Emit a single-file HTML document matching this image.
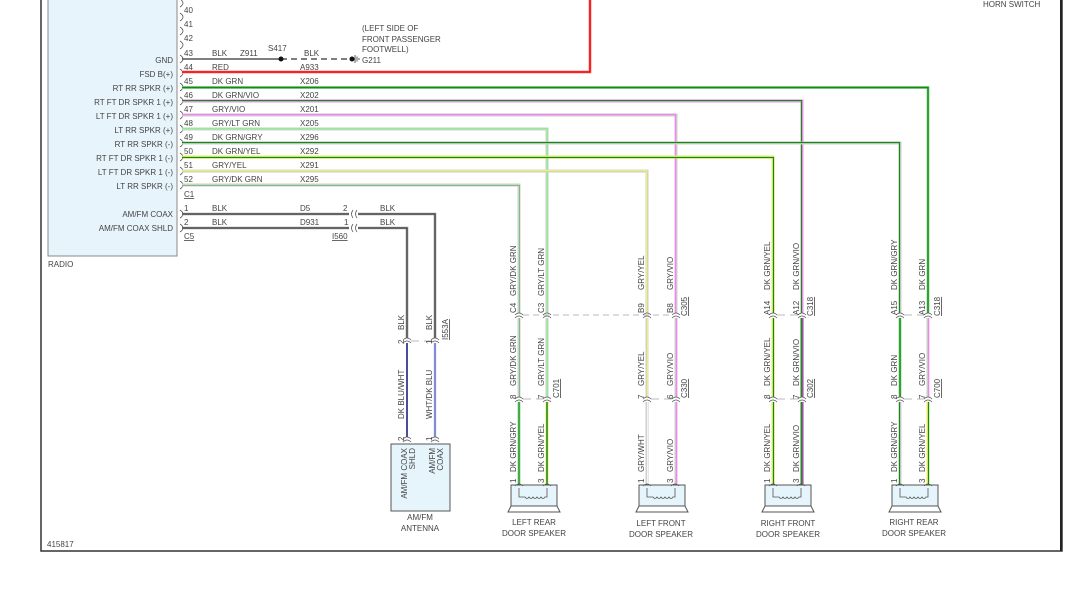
<!DOCTYPE html>
<html><head><meta charset="utf-8"><style>
html,body{margin:0;padding:0;background:#fff;}
svg{display:block;font-family:"Liberation Sans",sans-serif;}
text{fill:#444;font-size:8px;}
</style></head><body>
<svg width="1075" height="616" viewBox="0 0 1075 616" xmlns="http://www.w3.org/2000/svg">
<defs>
<g id="cn"><path d="M-4,1 Q0,-3 4,1 M-4,4 Q0,0 4,4" fill="none" stroke="#555" stroke-width="0.8"/></g>
<g id="pin"><path d="M0,-4 Q3,-2 3,0 Q3,2 0,4" fill="none" stroke="#555" stroke-width="0.8"/></g>
<g id="spk">
<rect x="-8" y="0" width="46" height="21" fill="#e6f4fb" stroke="#555" stroke-width="1"/>
<path d="M-8,21 L-11,27 L41,27 L38,21" fill="none" stroke="#555" stroke-width="1"/>
<path d="M0,3 V12 H6 q2,3 4,0 q2,3 4,0 q2,3 4,0 q2,3 4,0 q2,3 4,0 H28 V3" fill="none" stroke="#555" stroke-width="0.8"/>
<path d="M-4,1 Q0,-3 4,1 M24,1 Q28,-3 32,1" fill="none" stroke="#555" stroke-width="0.8"/>
</g>
</defs>

<!-- frame -->
<rect x="41" y="-5" width="1021" height="556" fill="none" stroke="#333" stroke-width="1.5"/>
<line x1="1061" y1="0" x2="1061" y2="551" stroke="#222" stroke-width="2"/>
<text x="983" y="7">HORN SWITCH</text>

<!-- radio -->
<rect x="48" y="-5" width="129" height="261" fill="#e8f4fb" stroke="#888" stroke-width="1"/>
<text x="48" y="267">RADIO</text>
<text x="47" y="547">415817</text>

<g text-anchor="end">
<text x="173" y="63">GND</text>
<text x="173" y="77">FSD B(+)</text>
<text x="173" y="91">RT RR SPKR (+)</text>
<text x="173" y="105">RT FT DR SPKR 1 (+)</text>
<text x="173" y="119">LT FT DR SPKR 1 (+)</text>
<text x="173" y="133">LT RR SPKR (+)</text>
<text x="173" y="147">RT RR SPKR (-)</text>
<text x="173" y="161">RT FT DR SPKR 1 (-)</text>
<text x="173" y="175">LT FT DR SPKR 1 (-)</text>
<text x="173" y="189">LT RR SPKR (-)</text>
<text x="173" y="217">AM/FM COAX</text>
<text x="173" y="231">AM/FM COAX SHLD</text>
</g>

<!-- pin markers -->
<g>
<use href="#pin" x="180" y="3"/><use href="#pin" x="180" y="17"/><use href="#pin" x="180" y="31"/><use href="#pin" x="180" y="45"/>
<use href="#pin" x="180" y="59"/><use href="#pin" x="180" y="73"/><use href="#pin" x="180" y="87"/><use href="#pin" x="180" y="101"/>
<use href="#pin" x="180" y="115"/><use href="#pin" x="180" y="129"/><use href="#pin" x="180" y="143"/><use href="#pin" x="180" y="157"/>
<use href="#pin" x="180" y="171"/><use href="#pin" x="180" y="185"/><use href="#pin" x="180" y="214"/><use href="#pin" x="180" y="228"/>
</g>
<g>
<text x="184" y="13">40</text><text x="184" y="27">41</text><text x="184" y="41">42</text>
<text x="184" y="56">43</text><text x="184" y="70">44</text><text x="184" y="84">45</text><text x="184" y="98">46</text>
<text x="184" y="112">47</text><text x="184" y="126">48</text><text x="184" y="140">49</text><text x="184" y="154">50</text>
<text x="184" y="168">51</text><text x="184" y="182">52</text>
<text x="184" y="197" text-decoration="underline">C1</text>
<text x="184" y="211">1</text><text x="184" y="225">2</text>
<text x="184" y="239" text-decoration="underline">C5</text>
</g>
<g>
<text x="212" y="56">BLK</text><text x="240" y="56">Z911</text><text x="268" y="51">S417</text><text x="304" y="56">BLK</text>
<text x="212" y="70">RED</text><text x="300" y="70">A933</text>
<text x="212" y="84">DK GRN</text><text x="300" y="84">X206</text>
<text x="212" y="98">DK GRN/VIO</text><text x="300" y="98">X202</text>
<text x="212" y="112">GRY/VIO</text><text x="300" y="112">X201</text>
<text x="212" y="126">GRY/LT GRN</text><text x="300" y="126">X205</text>
<text x="212" y="140">DK GRN/GRY</text><text x="300" y="140">X296</text>
<text x="212" y="154">DK GRN/YEL</text><text x="300" y="154">X292</text>
<text x="212" y="168">GRY/YEL</text><text x="300" y="168">X291</text>
<text x="212" y="182">GRY/DK GRN</text><text x="300" y="182">X295</text>
<text x="212" y="211">BLK</text><text x="300" y="211">D5</text><text x="343" y="211">2</text><text x="380" y="211">BLK</text>
<text x="212" y="225">BLK</text><text x="300" y="225">D931</text><text x="344" y="225">1</text><text x="380" y="225">BLK</text>
<text x="332" y="239" text-decoration="underline">I560</text>
<text x="362" y="31">(LEFT SIDE OF</text>
<text x="362" y="42">FRONT PASSENGER</text>
<text x="362" y="52">FOOTWELL)</text>
<text x="362" y="63">G211</text>
</g>

<!-- ground -->
<line x1="182" y1="59" x2="281" y2="59" stroke="#555" stroke-width="1.5"/>
<line x1="281" y1="59" x2="352" y2="59" stroke="#555" stroke-width="1.5" stroke-dasharray="6,4"/>
<circle cx="281" cy="59" r="2.5" fill="#111"/>
<circle cx="352" cy="59" r="2.5" fill="#111"/>
<path d="M355,55 V63 M357,56.5 V61.5 M359,58 V60" stroke="#333" stroke-width="0.8"/>

<!-- red wire -->
<path d="M182,72 H590 V-2" fill="none" stroke="#ff9999" stroke-width="3"/>
<path d="M182,72 H590 V-2" fill="none" stroke="#ee0000" stroke-width="1.5"/>

<!-- speaker wires (base width 3, stripe width 1.2) -->
<g fill="none">
<!-- 45 DK GRN -> 928 -->
<path d="M182,87.5 H928 V313" stroke="#9cd89c" stroke-width="3"/><path d="M182,87.5 H928 V313" stroke="#138a13" stroke-width="1.5"/>
<!-- 46 DK GRN/VIO -> 802 -->
<path d="M182,101 H802 V313" stroke="#ee99ee" stroke-width="3"/><path d="M182,100.5 H801.5 V313" stroke="#1a8a1a" stroke-width="1.2"/>
<!-- 47 GRY/VIO -> 676 -->
<path d="M182,115 H676 V313" stroke="#cfcfcf" stroke-width="3"/><path d="M182,114.5 H675.5 V313" stroke="#ee88ee" stroke-width="1.4"/>
<!-- 48 GRY/LT GRN -> 547 -->
<path d="M182,129 H547 V313" stroke="#cfcfcf" stroke-width="3"/><path d="M182,128.5 H547.5 V313" stroke="#90ee90" stroke-width="1.4"/>
<!-- 49 DK GRN/GRY -> 900 -->
<path d="M182,143 H900 V313" stroke="#cfcfcf" stroke-width="3"/><path d="M182,142.5 H899.5 V313" stroke="#138a13" stroke-width="1.2"/>
<!-- 50 DK GRN/YEL -> 773 -->
<path d="M182,157 H773 V313" stroke="#eeee66" stroke-width="3"/><path d="M182,157.5 H773.5 V313" stroke="#138a13" stroke-width="1.2"/>
<!-- 51 GRY/YEL -> 647 -->
<path d="M182,171 H647 V313" stroke="#cfcfcf" stroke-width="3"/><path d="M182,170.5 H646.5 V313" stroke="#f0f070" stroke-width="1.2"/>
<!-- 52 GRY/DK GRN -> 519 -->
<path d="M182,185 H519 V313" stroke="#cfcfcf" stroke-width="3"/><path d="M182,185.5 H519.5 V313" stroke="#7cbf7c" stroke-width="1"/>

<!-- middle segments 317-397 -->
<path d="M519,318 V397" stroke="#cfcfcf" stroke-width="3"/><path d="M519.5,318 V397" stroke="#7cbf7c" stroke-width="1"/>
<path d="M547,318 V397" stroke="#cfcfcf" stroke-width="3"/><path d="M547.5,318 V397" stroke="#90ee90" stroke-width="1.4"/>
<path d="M647,318 V397" stroke="#cfcfcf" stroke-width="3"/><path d="M647.5,318 V397" stroke="#f0f070" stroke-width="1.2"/>
<path d="M676,318 V397" stroke="#cfcfcf" stroke-width="3"/><path d="M676.5,318 V397" stroke="#ee88ee" stroke-width="1.4"/>
<path d="M773,318 V397" stroke="#eeee66" stroke-width="3"/><path d="M773.5,318 V397" stroke="#138a13" stroke-width="1.2"/>
<path d="M802,318 V397" stroke="#1a8a1a" stroke-width="3"/><path d="M802.5,318 V397" stroke="#cc33cc" stroke-width="1.2"/>
<path d="M900,318 V397" stroke="#9cd89c" stroke-width="3"/><path d="M900,318 V397" stroke="#138a13" stroke-width="1.5"/>
<path d="M928,318 V397" stroke="#cfcfcf" stroke-width="3"/><path d="M928.5,318 V397" stroke="#ee88ee" stroke-width="1.2"/>

<!-- lower segments 401-485 -->
<path d="M519,402 V485" stroke="#9cd89c" stroke-width="3"/><path d="M519,402 V485" stroke="#2a9a2a" stroke-width="1.5"/>
<path d="M547,402 V485" stroke="#eeee66" stroke-width="3"/><path d="M547,402 V485" stroke="#138a13" stroke-width="1.5"/>
<path d="M647,402 V485" stroke="#cfcfcf" stroke-width="3"/><path d="M647.5,402 V485" stroke="#f5f5f5" stroke-width="1"/>
<path d="M676,402 V485" stroke="#cfcfcf" stroke-width="3"/><path d="M676.5,402 V485" stroke="#ee88ee" stroke-width="1.4"/>
<path d="M773,402 V485" stroke="#eeee66" stroke-width="3"/><path d="M773.5,402 V485" stroke="#138a13" stroke-width="1.2"/>
<path d="M802,402 V485" stroke="#1a8a1a" stroke-width="3"/><path d="M802.5,402 V485" stroke="#cc33cc" stroke-width="1.2"/>
<path d="M900,402 V485" stroke="#cfcfcf" stroke-width="3"/><path d="M899.5,402 V485" stroke="#138a13" stroke-width="1.2"/>
<path d="M928,402 V485" stroke="#eeee66" stroke-width="3"/><path d="M928.5,402 V485" stroke="#138a13" stroke-width="1.2"/>

<!-- dashed connector lines -->
<line x1="523" y1="315" x2="672" y2="315" stroke="#c8c8c8" stroke-width="1.2" stroke-dasharray="6,4"/>
<path d="M523,399 H531 M536,399 H543 M651,399 H659 M664,399 H672 M777,315 H785 M790,315 H798 M777,399 H785 M790,399 H798 M904,315 H912 M917,315 H924 M904,399 H912 M917,399 H924 M411,341 H419 M424,341 H431" stroke="#c8c8c8" stroke-width="1.2"/>

<!-- coax -->
<path d="M182,214 H349 M358,214 H435 V338" stroke="#999" stroke-width="2.6"/>
<path d="M182,214 H349 M358,214 H435 V338" stroke="#444" stroke-width="1.2"/>
<path d="M182,228 H349 M358,228 H407 V338" stroke="#999" stroke-width="2.6"/>
<path d="M182,228 H349 M358,228 H407 V338" stroke="#444" stroke-width="1.2"/>
<path d="M353,210 Q350,214 353,218 M357,210 Q354,214 357,218 M353,224 Q350,228 353,232 M357,224 Q354,228 357,232" stroke="#555" stroke-width="0.8"/>
<path d="M407,343 V437" stroke="#1a237e" stroke-width="1.6"/>
<path d="M435,343 V437" stroke="#aab4e8" stroke-width="2.4"/><path d="M435,343 V437" stroke="#5566bb" stroke-width="1"/>
</g>

<!-- connector glyphs -->
<g>
<use href="#cn" x="407" y="339"/><use href="#cn" x="435" y="339"/>
<use href="#cn" x="407" y="438"/><use href="#cn" x="435" y="438"/>
<use href="#cn" x="519" y="314"/><use href="#cn" x="547" y="314"/><use href="#cn" x="647" y="314"/><use href="#cn" x="676" y="314"/>
<use href="#cn" x="773" y="314"/><use href="#cn" x="802" y="314"/><use href="#cn" x="900" y="314"/><use href="#cn" x="928" y="314"/>
<use href="#cn" x="519" y="398"/><use href="#cn" x="547" y="398"/><use href="#cn" x="647" y="398"/><use href="#cn" x="676" y="398"/>
<use href="#cn" x="773" y="398"/><use href="#cn" x="802" y="398"/><use href="#cn" x="900" y="398"/><use href="#cn" x="928" y="398"/>
</g>

<!-- speakers -->
<use href="#spk" x="519" y="485"/>
<use href="#spk" x="647" y="485"/>
<use href="#spk" x="773" y="485"/>
<use href="#spk" x="900" y="485"/>
<g text-anchor="middle">
<text x="534" y="525">LEFT REAR</text><text x="534" y="536">DOOR SPEAKER</text>
<text x="661" y="526">LEFT FRONT</text><text x="661" y="537">DOOR SPEAKER</text>
<text x="788" y="526">RIGHT FRONT</text><text x="788" y="537">DOOR SPEAKER</text>
<text x="914" y="525">RIGHT REAR</text><text x="914" y="536">DOOR SPEAKER</text>
<text x="420" y="520">AM/FM</text><text x="420" y="531">ANTENNA</text>
</g>

<!-- antenna box -->
<rect x="391" y="444" width="59" height="67" fill="#e6f4fb" stroke="#555" stroke-width="1"/>
<g text-anchor="end">
<text transform="translate(407,448) rotate(-90)">AM/FM COAX</text>
<text transform="translate(415,448) rotate(-90)">SHLD</text>
<text transform="translate(435,448) rotate(-90)">AM/FM</text>
<text transform="translate(443,448) rotate(-90)">COAX</text>
</g>

<!-- vertical labels -->
<g>
<!-- antenna wires -->
<text transform="translate(404,330) rotate(-90)">BLK</text>
<text transform="translate(432,330) rotate(-90)">BLK</text>
<text transform="translate(404,344) rotate(-90)">2</text>
<text transform="translate(432,344) rotate(-90)">1</text>
<text transform="translate(448,340) rotate(-90)" text-decoration="underline">I553A</text>
<text transform="translate(404,419) rotate(-90)">DK BLU/WHT</text>
<text transform="translate(432,419) rotate(-90)">WHT/DK BLU</text>
<text transform="translate(404,441) rotate(-90)">2</text>
<text transform="translate(432,441) rotate(-90)">1</text>

<!-- upper labels -->
<text transform="translate(516,296) rotate(-90)">GRY/DK GRN</text>
<text transform="translate(544,296) rotate(-90)">GRY/LT GRN</text>
<text transform="translate(644,290) rotate(-90)">GRY/YEL</text>
<text transform="translate(673,290) rotate(-90)">GRY/VIO</text>
<text transform="translate(770,290) rotate(-90)">DK GRN/YEL</text>
<text transform="translate(799,290) rotate(-90)">DK GRN/VIO</text>
<text transform="translate(897,290) rotate(-90)">DK GRN/GRY</text>
<text transform="translate(925,290) rotate(-90)">DK GRN</text>
<!-- connector names -->
<text transform="translate(516,313) rotate(-90)">C4</text>
<text transform="translate(544,313) rotate(-90)">C3</text>
<text transform="translate(644,313) rotate(-90)">B9</text>
<text transform="translate(673,313) rotate(-90)">B8</text>
<text transform="translate(770,315) rotate(-90)">A14</text>
<text transform="translate(799,315) rotate(-90)">A12</text>
<text transform="translate(897,315) rotate(-90)">A15</text>
<text transform="translate(925,315) rotate(-90)">A13</text>
<text transform="translate(687,316) rotate(-90)" text-decoration="underline">C305</text>
<text transform="translate(813,316) rotate(-90)" text-decoration="underline">C318</text>
<text transform="translate(940,316) rotate(-90)" text-decoration="underline">C318</text>
<!-- middle labels -->
<text transform="translate(516,386) rotate(-90)">GRY/DK GRN</text>
<text transform="translate(544,386) rotate(-90)">GRY/LT GRN</text>
<text transform="translate(644,386) rotate(-90)">GRY/YEL</text>
<text transform="translate(673,386) rotate(-90)">GRY/VIO</text>
<text transform="translate(770,386) rotate(-90)">DK GRN/YEL</text>
<text transform="translate(799,386) rotate(-90)">DK GRN/VIO</text>
<text transform="translate(897,386) rotate(-90)">DK GRN</text>
<text transform="translate(925,386) rotate(-90)">GRY/VIO</text>
<text transform="translate(516,399) rotate(-90)">8</text>
<text transform="translate(544,399) rotate(-90)">7</text>
<text transform="translate(644,399) rotate(-90)">7</text>
<text transform="translate(673,399) rotate(-90)">6</text>
<text transform="translate(770,399) rotate(-90)">8</text>
<text transform="translate(799,399) rotate(-90)">7</text>
<text transform="translate(897,399) rotate(-90)">8</text>
<text transform="translate(925,399) rotate(-90)">7</text>
<text transform="translate(559,398) rotate(-90)" text-decoration="underline">C701</text>
<text transform="translate(687,398) rotate(-90)" text-decoration="underline">C330</text>
<text transform="translate(813,398) rotate(-90)" text-decoration="underline">C302</text>
<text transform="translate(940,398) rotate(-90)" text-decoration="underline">C700</text>
<!-- lower labels -->
<text transform="translate(516,472) rotate(-90)">DK GRN/GRY</text>
<text transform="translate(544,472) rotate(-90)">DK GRN/YEL</text>
<text transform="translate(644,472) rotate(-90)">GRY/WHT</text>
<text transform="translate(673,472) rotate(-90)">GRY/VIO</text>
<text transform="translate(770,472) rotate(-90)">DK GRN/YEL</text>
<text transform="translate(799,472) rotate(-90)">DK GRN/VIO</text>
<text transform="translate(897,472) rotate(-90)">DK GRN/GRY</text>
<text transform="translate(925,472) rotate(-90)">DK GRN/YEL</text>
<text transform="translate(516,483) rotate(-90)">1</text>
<text transform="translate(544,483) rotate(-90)">3</text>
<text transform="translate(644,483) rotate(-90)">1</text>
<text transform="translate(673,483) rotate(-90)">3</text>
<text transform="translate(770,483) rotate(-90)">1</text>
<text transform="translate(799,483) rotate(-90)">3</text>
<text transform="translate(897,483) rotate(-90)">1</text>
<text transform="translate(925,483) rotate(-90)">3</text>
</g>
</svg>
</body></html>
